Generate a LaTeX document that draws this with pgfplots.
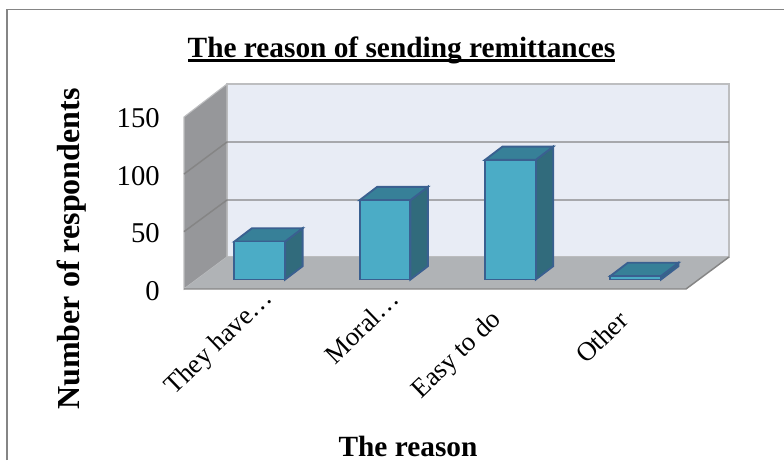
\documentclass[border=0pt]{standalone}
\usepackage{fontspec}
\setmainfont{Liberation Serif}
\usepackage{pgfplots}
\pgfplotsset{compat=1.18}
\definecolor{wallback}{HTML}{E8ECF5}
\definecolor{wallside}{HTML}{96979A}
\definecolor{floorgray}{HTML}{B0B3B6}
\definecolor{gridgray}{HTML}{858585}
\definecolor{edgegray}{HTML}{BDBEC0}
\definecolor{barface}{HTML}{4BACC6}
\definecolor{bartop}{HTML}{378098}
\definecolor{barside}{HTML}{316B7C}
\definecolor{barline}{HTML}{3A6090}
\begin{document}
\begin{tikzpicture}[x=1pt,y=1pt]
\useasboundingbox (0,0) rectangle (588,345);
\fill[white] (0,0) rectangle (588,345);
\draw[gridgray,line width=1.1pt] (5.4,0) -- (5.4,338) -- (588,338);
\begin{axis}[
  at={(138pt,128.25pt)}, anchor=south west,
  scale only axis, width=408.75pt, height=153.75pt,
  xmin=-0.6045, xmax=3.745, ymin=-8.26, ymax=170,
  clip=false,
  axis line style={draw=none},
  major tick length=0pt,
  xtick={0,1,2,3},
  xticklabels={{They have…\kern-1.15em},{Moral…\kern-1.15em},{Easy to do},{Other}},
  ytick={0,50,100,150},
  /pgf/number format/assume math mode=true,
  x tick label style={font=\fontsize{20}{24}\selectfont,rotate=44,anchor=east,inner sep=0pt,xshift=-20.6pt,yshift=-8.3pt},
  y tick label style={font=\fontsize{21.5}{24}\selectfont,anchor=east,inner sep=0pt,xshift=-18pt,yshift=-8.4pt},
  title={\textbf{The reason of sending remittances}},
  title style={at={(axis description cs:0.399,1.09)},anchor=base,inner sep=0pt,yshift=0pt,
    font=\fontsize{22}{26}\selectfont},
  xlabel={\textbf{The reason}},
  xlabel style={at={(axis description cs:0.411,-0.815)},anchor=base,inner sep=0pt,
    font=\fontsize{22}{26}\selectfont},
  ylabel={\textbf{Number of respondents}},
  ylabel style={at={(axis description cs:-0.191,0.195)},rotate=0,anchor=base,inner sep=0pt,
    font=\fontsize{24}{28}\selectfont},
]
% walls and floor of the box
\addplot[fill=wallback,draw=edgegray,line width=1pt] coordinates {(-0.2613,19.57) (3.745,19.57) (3.745,170) (-0.2613,170)} -- cycle;
\addplot[fill=wallside,draw=edgegray,line width=0.8pt] coordinates {(-0.6045,-8.26) (-0.2613,19.57) (-0.2613,170) (-0.6045,141.3)} -- cycle;
\addplot[fill=floorgray,draw=none] coordinates {(-0.6045,-8.26) (3.4018,-8.26) (3.745,19.57) (-0.2613,19.57)} -- cycle;
\addplot[gridgray,line width=1.1pt] coordinates {(-0.6045,-8.26) (3.4018,-8.26) (3.745,19.57)};
% gridlines
\addplot[gridgray,line width=1.1pt] coordinates {(-0.6045,41.6) (-0.2613,69.13) (3.745,69.13)};
\addplot[gridgray,line width=1.1pt] coordinates {(-0.6045,91.7) (-0.2613,119.57) (3.745,119.57)};
% bar sides
\addplot[fill=barside,draw=barline,line width=1.4pt] coordinates {(0.2023,0) (0.2023,33) (0.3420,44.57) (0.3420,11.57)} -- cycle;
\addplot[fill=barside,draw=barline,line width=1.4pt] coordinates {(1.2023,0) (1.2023,69) (1.3420,80.57) (1.3420,11.57)} -- cycle;
\addplot[fill=barside,draw=barline,line width=1.4pt] coordinates {(2.2023,0) (2.2023,104) (2.3420,115.57) (2.3420,11.57)} -- cycle;
\addplot[fill=barside,draw=barline,line width=1.4pt] coordinates {(3.2023,0) (3.2023,3) (3.3420,14.57) (3.3420,11.57)} -- cycle;
% bar tops
\addplot[fill=bartop,draw=barline,line width=1.4pt] coordinates {(-0.2023,33) (0.2023,33) (0.3420,44.57) (-0.0626,44.57)} -- cycle;
\addplot[fill=bartop,draw=barline,line width=1.4pt] coordinates {(0.7977,69) (1.2023,69) (1.3420,80.57) (0.9374,80.57)} -- cycle;
\addplot[fill=bartop,draw=barline,line width=1.4pt] coordinates {(1.7977,104) (2.2023,104) (2.3420,115.57) (1.9374,115.57)} -- cycle;
\addplot[fill=bartop,draw=barline,line width=1.4pt] coordinates {(2.7977,3) (3.2023,3) (3.3420,14.57) (2.9374,14.57)} -- cycle;
% bar fronts
\addplot[ybar,bar width=38pt,bar shift=0pt,fill=barface,draw=barline,line width=1.4pt] coordinates {(0,33) (1,69) (2,104) (3,3)};
\end{axis}
% rule beneath the heading
\draw[black,line width=2.2pt] (141,299.5) -- (461.5,299.5);
\end{tikzpicture}
\end{document}
